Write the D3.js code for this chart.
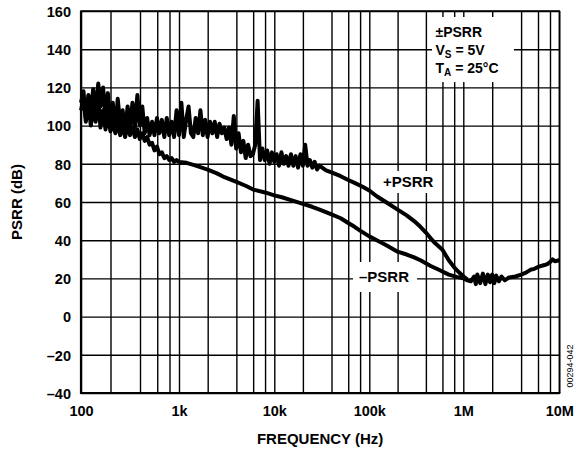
<!DOCTYPE html>
<html><head><meta charset="utf-8">
<script src="https://cdn.jsdelivr.net/npm/d3@7"></script>
<style>body{margin:0;background:#fff}svg{display:block}text{font-family:"Liberation Sans",Arial,sans-serif;fill:#000}</style>
</head><body>
<script>
// ---- data ----
const freqPlus = [100,106,112,119,126,133,141,150,158,168,178,188,200,211,224,237,251,266,282,299,
316,335,355,376,398,422,447,473,501,531,562,596,631,668,708,750,794,841,891,944,
1000,1059,1122,1189,1259,1334,1413,1496,1585,1679,1778,1884,1995,2113,2239,2371,2512,2661,2818,2985,
3162,3350,3548,3758,3981,4217,4467,4732,5012,5309,5623,5957,6310,6683,7079,7499,7943,8414,8913,9441,
10000,10593,11220,11885,12589,13335,14125,14962,15849,16788,17783,18836,19953,21135,22387,23714,25119,26607,28184,29854,
35000,40000,50000,60000,70000,85000,100000,120000,150000,200000,250000,300000,350000,400000,450000,500000,600000,700000,800000,900000,1000000,1100000];
const psrrPlus = [112,118,104,116,106,119,108,122,110,120,
104,117,100,112,97,114,101,108,96,110,
98,112,99,116,100,110,96,104,95,102,
95,104,96,103,94,104,95,102,94,108,
95,112,94,103,110,96,94,104,96,108,
95,103,94,102,96,102,94,101,96,99,
93,99,90,105,88,96,86,92,83,90,
84,85,90,113,82,88,82,87,80,86,
81,85,79,86,80,84,79,85,79,84,
78,85,79,90,79,82,78,81,77,79,
76.5,75.5,73.5,71.5,70,68,66,63,60,56,53,50,47,44,41,38.5,35,29.5,25.8,23.2,21,19.5];

const freqMinus = [100,106,112,119,126,133,141,150,158,168,178,188,200,211,224,237,251,266,282,299,
316,335,355,376,398,422,447,473,501,531,562,596,631,668,708,750,794,841,891,944,1000,
1200,1500,2000,2500,3000,4000,5000,6000,8000,10000,
12000,15000,20000,25000,30000,40000,50000,60000,70000,80000,
100000,120000,150000,200000,250000,300000,350000,450000,550000,700000,
850000,1000000,1100000,
1200000,1300000,1350000,1400000,1500000,1600000,1700000,1800000,1900000,2000000,
2100000,2200000,2350000,2500000,2700000,3000000,3500000,4000000,4500000,5000000,
5500000,6000000,7000000,7500000,8000000,8500000,9000000,10000000];
const psrrMinus = [108,114,102,112,100,110,102,114,99,108,98,106,97,104,96,102,95,100,94,101,
95,99,94,98,93,96,92,94,90,91,87,89,85,86,83,84,82,83,81,82,81,
80.5,79,77,75,73,70.5,68.5,66.5,65,63.5,
62.5,61,59,57.5,56,53.5,51.5,49,47,45,
42,40,37.5,34,32.5,31,29.5,26.5,24.5,22,
20.8,20,19,
18.5,21,17,22,17.5,22.5,17,22,18,22,
17.5,21.5,18.5,21,19,20.5,21,22,23,24.5,
25,26,27,27.5,28.5,30,29,29.5];

const xTickValues = [1e2,1e3,1e4,1e5,1e6,1e7];
const xTickLabels = ["100","1k","10k","100k","1M","10M"];
const gridMultipliers = [1,2,4,6,8];
const yTickValues = [-40,-20,0,20,40,60,80,100,120,140,160];
const yTickLabels = ["\u201340","\u201320","0","20","40","60","80","100","120","140","160"];

// ---- layout ----
const W = 576, H = 452;
const L = 81, R = 559.3, T = 11, B = 393;
const svg = d3.select("body").append("svg").attr("width", W).attr("height", H);

const x = d3.scaleLog().domain(xTickValues).range([L, 179, 274.3, 369.3, 463.3, R]);
const y = d3.scaleLinear().domain([-40, 160]).range([B, T]);

const gridFreqs = [];
for (let i = 0; i < xTickValues.length - 1; i++) gridMultipliers.forEach(m => gridFreqs.push(xTickValues[i] * m));
gridFreqs.push(1e7);

// grid
const g = svg.append("g");
g.append("g").attr("transform", `translate(0,${B})`)
  .call(d3.axisBottom(x).tickValues(gridFreqs).tickSize(-(B - T)).tickFormat(""))
  .call(s => { s.select(".domain").remove(); s.selectAll("line").attr("stroke", "#000").attr("stroke-width", 1.4); });
g.append("g").attr("transform", `translate(${L},0)`)
  .call(d3.axisLeft(y).tickValues(yTickValues).tickSize(-(R - L)).tickFormat(""))
  .call(s => { s.select(".domain").remove(); s.selectAll("line").attr("stroke", "#000").attr("stroke-width", 1.4); });

// frame
svg.append("rect").attr("x", L).attr("y", T).attr("width", R - L).attr("height", B - T)
  .attr("fill", "none").attr("stroke", "#000").attr("stroke-width", 1.5);
svg.append("line").attr("x1", L).attr("x2", L).attr("y1", T).attr("y2", B + 1).attr("stroke", "#000").attr("stroke-width", 2.2);
svg.append("line").attr("x1", L - 1).attr("x2", R + 1).attr("y1", B).attr("y2", B).attr("stroke", "#000").attr("stroke-width", 2.2);

// white boxes behind annotations
svg.append("rect").attr("x", 432).attr("y", 17).attr("width", 82).attr("height", 65).attr("fill", "#fff");
svg.append("rect").attr("x", 379).attr("y", 171).attr("width", 61).attr("height", 22).attr("fill", "#fff");
svg.append("rect").attr("x", 353).attr("y", 262).attr("width", 64).attr("height", 30).attr("fill", "#fff");

// curves
const line = d3.line().x(d => x(d[0])).y(d => y(d[1]));
[[freqMinus, psrrMinus], [freqPlus, psrrPlus]].forEach(([f, v]) => {
  svg.append("path").datum(f.map((d, i) => [d, v[i]])).attr("d", line)
    .attr("fill", "none").attr("stroke", "#000").attr("stroke-width", 4)
    .attr("stroke-linejoin", "round");
});

// axes labels
const fs = "14.5px";
svg.append("g").attr("transform", `translate(0,${B})`)
  .call(d3.axisBottom(x).tickValues(xTickValues).tickSize(0).tickPadding(0).tickFormat((d, i) => xTickLabels[i]))
  .call(s => { s.select(".domain").remove(); s.selectAll("text").attr("y", 23).attr("dy", 0)
    .attr("font-size", fs).attr("font-weight", "bold").attr("font-family", "Liberation Sans, Arial, sans-serif").attr("fill", "#000"); });
svg.append("g").attr("transform", `translate(71,0)`)
  .call(d3.axisLeft(y).tickValues(yTickValues).tickSize(0).tickPadding(0).tickFormat((d, i) => yTickLabels[i]))
  .call(s => { s.select(".domain").remove(); s.selectAll("text").attr("x", 0).attr("dy", "0.36em")
    .attr("font-size", fs).attr("font-weight", "bold").attr("font-family", "Liberation Sans, Arial, sans-serif").attr("fill", "#000"); });

svg.append("text").attr("x", (L + R) / 2).attr("y", 443.5).attr("text-anchor", "middle")
  .attr("font-size", "15px").attr("font-weight", "bold").text("FREQUENCY (Hz)");
svg.append("text").attr("transform", `translate(22,${(T + B) / 2}) rotate(-90)`).attr("text-anchor", "middle")
  .attr("font-size", "15px").attr("font-weight", "bold").text("PSRR (dB)");

// legend text
const leg = svg.append("g").attr("font-size", "14px").attr("font-weight", "bold");
leg.append("text").attr("x", 435.5).attr("y", 36.5).text("\u00B1PSRR");
const t2 = leg.append("text").attr("x", 435.5).attr("y", 54.5);
t2.append("tspan").text("V");
t2.append("tspan").attr("font-size", "10px").attr("dy", 3).text("S");
t2.append("tspan").attr("dy", -3).text(" = 5V");
const t3 = leg.append("text").attr("x", 435.5).attr("y", 72.5);
t3.append("tspan").text("T");
t3.append("tspan").attr("font-size", "10px").attr("dy", 3).text("A");
t3.append("tspan").attr("dy", -3).text(" = 25\u00B0C");

// curve labels
svg.append("text").attr("x", 383).attr("y", 187).attr("font-size", "15px").attr("font-weight", "bold").text("+PSRR");
svg.append("text").attr("x", 359).attr("y", 282).attr("font-size", "15px").attr("font-weight", "bold").text("\u2013PSRR");

// figure id
svg.append("text").attr("transform", "translate(572.5,366) rotate(-90)").attr("text-anchor", "middle")
  .attr("font-size", "9px").text("00294-042");
</script>
</body></html>
